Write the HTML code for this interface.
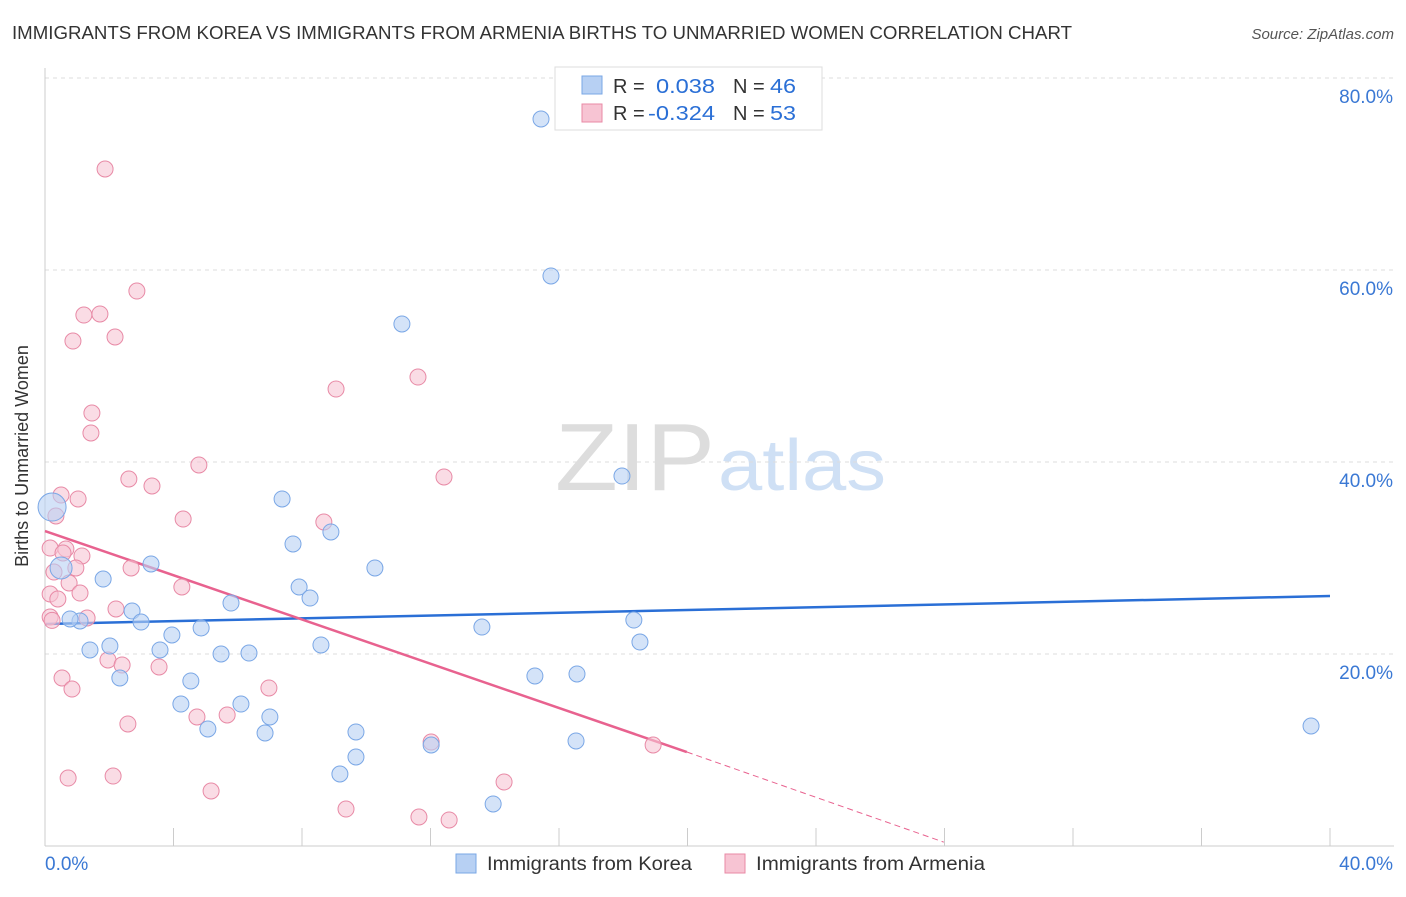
<!DOCTYPE html>
<html><head><meta charset="utf-8"><style>
body{margin:0;background:#fff;font-family:"Liberation Sans",sans-serif;}
svg text{font-family:"Liberation Sans",sans-serif;}
</style></head><body>
<svg id="chart" width="1406" height="892" viewBox="0 0 1406 892">
<text x="12" y="39" font-size="18" fill="#333" textLength="1060" lengthAdjust="spacingAndGlyphs">IMMIGRANTS FROM KOREA VS IMMIGRANTS FROM ARMENIA BIRTHS TO UNMARRIED WOMEN CORRELATION CHART</text>
<text x="1394" y="39" font-size="15" fill="#555" font-style="italic" text-anchor="end">Source: ZipAtlas.com</text>
<g><text x="555" y="490" font-size="96" font-family="Liberation Serif" fill="#ddd" textLength="160" lengthAdjust="spacingAndGlyphs">ZIP</text><text x="718" y="490" font-size="72" fill="#cfe0f5" textLength="168" lengthAdjust="spacingAndGlyphs">atlas</text></g>
<g id="grid"></g>
<g id="axes"></g>
<g id="lines"></g>
<g id="pts"></g>
<text x="28" y="456" font-size="18" fill="#333" text-anchor="middle" transform="rotate(-90 28 456)">Births to Unmarried Women</text>
<g>
<rect x="555" y="67" width="267" height="63" fill="#fff" stroke="#ddd"/>
<rect x="582" y="76" width="20" height="18" fill="#b7d0f3" stroke="#7aa7e6"/>
<rect x="582" y="104" width="20" height="18" fill="#f7c4d3" stroke="#e88aa6"/>
<text x="613" y="93" font-size="20" fill="#333">R = </text><text x="656" y="93" font-size="20" fill="#2a6fd6" textLength="59" lengthAdjust="spacingAndGlyphs">0.038</text>
<text x="733" y="93" font-size="20" fill="#333">N = </text><text x="770" y="93" font-size="20" fill="#2a6fd6" textLength="26" lengthAdjust="spacingAndGlyphs">46</text>
<text x="613" y="120" font-size="20" fill="#333">R = </text><text x="648" y="120" font-size="20" fill="#2a6fd6" textLength="67" lengthAdjust="spacingAndGlyphs">-0.324</text>
<text x="733" y="120" font-size="20" fill="#333">N = </text><text x="770" y="120" font-size="20" fill="#2a6fd6" textLength="26" lengthAdjust="spacingAndGlyphs">53</text>
</g>
<g>
<g><rect x="456" y="854" width="20" height="19" fill="#b7d0f3" stroke="#7aa7e6"/><text x="487" y="870" font-size="19" fill="#333" textLength="205" lengthAdjust="spacingAndGlyphs">Immigrants from Korea</text></g>
<g><rect x="725" y="854" width="20" height="19" fill="#f7c4d3" stroke="#e88aa6"/><text x="756" y="870" font-size="19" fill="#333" textLength="229" lengthAdjust="spacingAndGlyphs">Immigrants from Armenia</text></g>
</g>
</svg>
<script>
const yTicks=[20,40,60,80];
const yTickLabels=["20.0%","40.0%","60.0%","80.0%"];
const xTickLabels=["0.0%","40.0%"];
const koreaX=[15.44,15.75,11.11,17.96,7.38,7.72,8.90,10.27,3.30,1.81,7.91,8.25,5.79,2.71,2.99,1.09,0.78,4.86,3.95,13.60,18.33,18.52,8.59,2.02,1.40,3.58,5.48,6.35,4.54,2.33,15.25,16.56,4.23,6.10,7.00,9.68,5.07,6.85,16.53,12.02,9.68,9.18,13.95,39.41,0.22,0.50];
const koreaY=[75.73,59.38,54.38,38.54,36.15,31.46,32.71,28.96,29.38,27.81,26.98,25.83,25.31,24.48,23.33,23.44,23.65,22.71,21.98,22.81,23.54,21.25,20.94,20.83,20.42,20.42,20.00,20.10,17.19,17.50,17.71,17.92,14.79,14.79,13.44,11.88,12.19,11.77,10.94,10.52,9.27,7.50,4.38,12.50,35.31,28.96];
const koreaSize=[8,8,8,8,8,8,8,8,8,8,8,8,8,8,8,8,8,8,8,8,8,8,8,8,8,8,8,8,8,8,8,8,8,8,8,8,8,8,8,8,8,8,8,8,14,11];
const armeniaX=[1.87,2.86,1.21,1.71,2.18,0.87,11.61,9.06,1.46,1.43,4.79,12.42,2.61,3.33,1.03,0.50,4.30,0.34,8.68,0.16,0.65,0.56,1.15,2.68,0.96,0.28,4.26,0.75,1.09,0.16,0.40,2.21,1.31,0.16,1.96,2.40,3.55,0.53,0.84,6.97,4.73,5.67,2.58,12.02,18.93,2.12,0.72,14.29,5.17,9.37,11.64,12.58,0.22];
const armeniaY=[70.52,57.81,55.31,55.42,53.02,52.60,48.85,47.60,45.10,43.02,39.69,38.44,38.23,37.50,36.15,36.56,34.06,34.38,33.75,31.04,30.94,30.52,30.21,28.96,28.96,28.54,26.98,27.40,26.35,26.25,25.73,24.69,23.75,23.85,19.38,18.85,18.65,17.50,16.35,16.46,13.44,13.65,12.71,10.83,10.52,7.29,7.08,6.67,5.73,3.85,3.02,2.71,23.5];
const koreaTrend=[[0,23.13],[40,26.04]];
const armeniaTrend=[[0,32.81],[19.98,9.79]];
const armeniaTrendExt=[[19.98,9.79],[27.98,0.4]];
const NS="http://www.w3.org/2000/svg";
const X=v=>45+v/40*1285, Y=v=>846-v/20*192;
function mk(p,t,a){const e=document.createElementNS(NS,t);for(const k in a)e.setAttribute(k,a[k]);p.appendChild(e);return e;}
const grid=document.getElementById('grid'),axes=document.getElementById('axes'),lines=document.getElementById('lines'),pts=document.getElementById('pts');
yTicks.forEach((t,i)=>{
 const l=mk(grid,'line',{x1:45,x2:1394,y1:Y(t),y2:Y(t),stroke:'#ddd','stroke-dasharray':'4,4'});
 
 
 const tx=mk(axes,'text',{x:1393,y:Y(t)+25,'font-size':19,fill:'#3a78d4','text-anchor':'end'});tx.textContent=yTickLabels[i];
 
 
});
mk(axes,'line',{x1:45,x2:45,y1:68,y2:846,stroke:'#ccc'});
mk(axes,'line',{x1:45,x2:1394,y1:846,y2:846,stroke:'#ccc'});
for(let i=0;i<=10;i++){mk(axes,'line',{x1:X(i*4),x2:X(i*4),y1:828,y2:846,stroke:'#ccc'});}
const xl0=mk(axes,'text',{x:45,y:870,'font-size':19,fill:'#3a78d4'});xl0.textContent=xTickLabels[0];


const xl1=mk(axes,'text',{x:1393,y:870,'font-size':19,fill:'#3a78d4','text-anchor':'end'});xl1.textContent=xTickLabels[1];


armeniaX.forEach((v,i)=>{const c=mk(pts,'circle',{cx:X(v),cy:Y(armeniaY[i]),r:8,fill:'#f7c4d3','fill-opacity':0.6,stroke:'#e88aa6','stroke-width':1});
 
 });
koreaX.forEach((v,i)=>{const c=mk(pts,'circle',{cx:X(v),cy:Y(koreaY[i]),r:koreaSize[i],fill:'#b7d0f3','fill-opacity':0.6,stroke:'#7aa7e6','stroke-width':1});
 
 });
const bl=mk(lines,'line',{x1:X(koreaTrend[0][0]),y1:Y(koreaTrend[0][1]),x2:X(koreaTrend[1][0]),y2:Y(koreaTrend[1][1]),stroke:'#2a6fd6','stroke-width':2.5});


const pl=mk(lines,'line',{x1:X(armeniaTrend[0][0]),y1:Y(armeniaTrend[0][1]),x2:X(armeniaTrend[1][0]),y2:Y(armeniaTrend[1][1]),stroke:'#e8628f','stroke-width':2.5});


const pd=mk(lines,'line',{x1:X(armeniaTrendExt[0][0]),y1:Y(armeniaTrendExt[0][1]),x2:X(armeniaTrendExt[1][0]),y2:Y(armeniaTrendExt[1][1]),stroke:'#e8628f','stroke-width':1,'stroke-dasharray':'6,4'});


</script>
</body></html>
